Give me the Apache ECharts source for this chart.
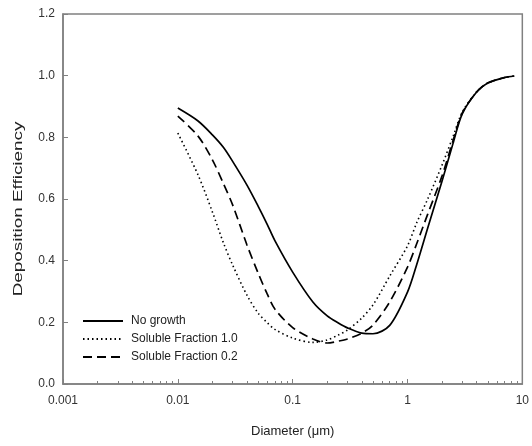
<!DOCTYPE html>
<html>
<head>
<meta charset="utf-8">
<script src="https://cdn.jsdelivr.net/npm/echarts@6/dist/echarts.min.js"></script>
<style>html,body{margin:0;padding:0;background:#fff}#c{width:532px;height:446px}</style>
</head>
<body>
<div id="c"></div>
<script>
const diameters = [0.01, 0.015, 0.02, 0.025, 0.03, 0.04, 0.05, 0.06, 0.07, 0.1, 0.15, 0.2, 0.25, 0.3, 0.4, 0.5, 0.7, 1, 1.2, 1.5, 2, 2.5, 3, 4, 5, 7, 8.5];
const noGrowth  = [0.895, 0.853, 0.808, 0.767, 0.722, 0.645, 0.577, 0.518, 0.465, 0.363, 0.266, 0.221, 0.198, 0.182, 0.165, 0.163, 0.190, 0.298, 0.386, 0.506, 0.658, 0.782, 0.876, 0.947, 0.976, 0.994, 0.999];
const soluble10 = [0.814, 0.678, 0.558, 0.457, 0.386, 0.288, 0.230, 0.199, 0.177, 0.149, 0.135, 0.143, 0.159, 0.175, 0.214, 0.256, 0.350, 0.448, 0.522, 0.600, 0.710, 0.804, 0.882, 0.947, 0.976, 0.994, 0.999];
const soluble02 = [0.869, 0.804, 0.727, 0.649, 0.581, 0.451, 0.360, 0.292, 0.243, 0.183, 0.146, 0.133, 0.139, 0.146, 0.165, 0.191, 0.266, 0.379, 0.454, 0.551, 0.675, 0.791, 0.879, 0.947, 0.976, 0.994, 0.999];
const seriesNames = ['No growth', 'Soluble Fraction 1.0', 'Soluble Fraction 0.2'];
const xTickLabels = ['0.001', '0.01', '0.1', '1', '10'];
const yTitle = 'Deposition Efficiency';

const pairs = ys => diameters.map((d, i) => [d, ys[i]]);
const font = 'Liberation Sans, Arial, sans-serif';
const axisColor = '#808080';

const chart = echarts.init(document.getElementById('c'), null, {renderer: 'canvas'});
chart.setOption({
  animation: false,
  backgroundColor: '#fff',
  grid: {left: 63, right: 6, top: 14, bottom: 62, show: true, borderColor: axisColor, borderWidth: 1.5},
  legend: {
    orient: 'vertical', left: 77, top: 310, itemWidth: 40, itemHeight: 12, itemGap: 6,
    itemStyle: {color: 'transparent', borderColor: 'transparent', borderWidth: 0},
    textStyle: {fontFamily: font, fontSize: 12, color: '#222', padding: [0, 0, 0, 3]},
    data: seriesNames
  },
  graphic: [{
    type: 'text', x: 18, y: 209, rotation: Math.PI / 2, scaleX: 1.45, scaleY: 1,
    style: {text: yTitle, font: '13px ' + font, fill: '#222', align: 'center', verticalAlign: 'middle'}
  }],
  xAxis: {
    type: 'log', logBase: 10, min: 0.001, max: 10,
    name: 'Diameter (\u03bcm)', nameLocation: 'middle', nameGap: 41,
    nameTextStyle: {fontFamily: font, fontSize: 13, color: '#222'},
    axisLine: {lineStyle: {color: axisColor, width: 1.5}},
    axisTick: {inside: true, length: 5, lineStyle: {color: axisColor}},
    minorTick: {show: true, splitNumber: 9, length: 3, lineStyle: {color: axisColor}},
    splitLine: {show: false},
    axisLabel: {fontFamily: font, fontSize: 12, color: '#333', margin: 11,
      formatter: v => { const s = xTickLabels.find(t => Math.abs(parseFloat(t) - v) / v < 1e-6); return s || ''; }}
  },
  yAxis: {
    type: 'value', min: 0, max: 1.2, interval: 0.2,
    axisLine: {show: true, lineStyle: {color: axisColor, width: 1.5}},
    axisTick: {show: true, inside: true, length: 5, lineStyle: {color: axisColor}},
    splitLine: {show: false},
    axisLabel: {fontFamily: font, fontSize: 12, color: '#333', margin: 8, formatter: v => v.toFixed(1)}
  },
  series: [
    {name: seriesNames[0], type: 'line', data: pairs(noGrowth), smooth: 0.3, symbol: 'none',
      lineStyle: {color: '#000', width: 1.7, type: 'solid'}, itemStyle: {color: '#000'}},
    {name: seriesNames[1], type: 'line', data: pairs(soluble10), smooth: 0.3, symbol: 'none',
      lineStyle: {color: '#000', width: 1.6, type: [1.5, 3]}, itemStyle: {color: '#000'}},
    {name: seriesNames[2], type: 'line', data: pairs(soluble02), smooth: 0.3, symbol: 'none',
      lineStyle: {color: '#000', width: 1.7, type: [9, 5]}, itemStyle: {color: '#000'}}
  ]
});
</script>
</body>
</html>
